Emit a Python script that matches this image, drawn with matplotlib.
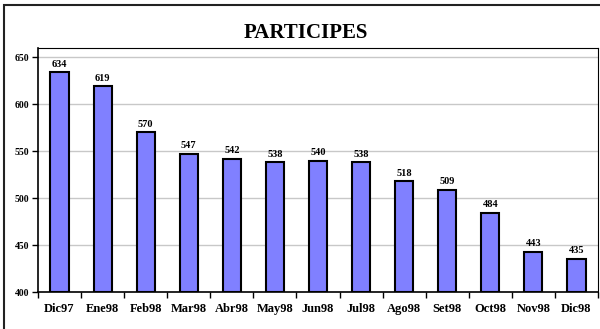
import matplotlib
matplotlib.use('Agg')
import matplotlib.pyplot as plt
from matplotlib.patches import Rectangle

months = ['Dic97', 'Ene98', 'Feb98', 'Mar98', 'Abr98', 'May98', 'Jun98',
          'Jul98', 'Ago98', 'Set98', 'Oct98', 'Nov98', 'Dic98']
participes = [634, 619, 570, 547, 542, 538, 540, 538, 518, 509, 484, 443, 435]
yticks = [400, 450, 500, 550, 600, 650]

plt.rcParams['font.family'] = ['Liberation Serif', 'DejaVu Serif']

fig = plt.figure(figsize=(6, 3.29), dpi=100)
ax = fig.add_axes([38 / 600, 1 - 292 / 329, 560 / 600, 244 / 329])

# outer frame of the chart
fig.patches.append(Rectangle((4 / 600, -0.1), 1.2, 1 - 5 / 329 + 0.1,
                             transform=fig.transFigure, fill=False,
                             edgecolor='#222222', linewidth=1.5))

x = list(range(len(months)))
ax.bar(x, [v - 400 for v in participes], bottom=400, width=0.42,
       color='#8080FF', edgecolor='black', linewidth=1.5, zorder=3)

for xi, v in zip(x, participes):
    ax.text(xi, v + 4, str(v), ha='center', va='bottom',
            fontsize=7.5, fontweight='bold')

ax.set_xlim(-0.5, len(months) - 0.5)
ax.set_ylim(400, 660)
ax.set_yticks(yticks)
ax.set_yticklabels([str(t) for t in yticks], fontsize=7, fontweight='bold')
ax.yaxis.grid(True, color='#c8c8c8', linewidth=1, zorder=0)

ax.set_xticks(x)
ax.set_xticklabels(months, fontsize=9, fontweight='bold')
ax.tick_params(axis='x', length=0, pad=8)
ax.set_xticks([i - 0.5 for i in range(len(months) + 1)], minor=True)
ax.tick_params(axis='x', which='minor', length=4, width=1)
ax.tick_params(axis='y', length=4, width=1, pad=2)

for side in ['left', 'bottom']:
    ax.spines[side].set_linewidth(1.2)
for side in ['top', 'right']:
    ax.spines[side].set_linewidth(0.8)

fig.text(306 / 600, 1 - 33 / 329, 'PARTICIPES', ha='center', va='center',
         fontsize=15, fontweight='bold')

fig.savefig('out.png', dpi=100)
